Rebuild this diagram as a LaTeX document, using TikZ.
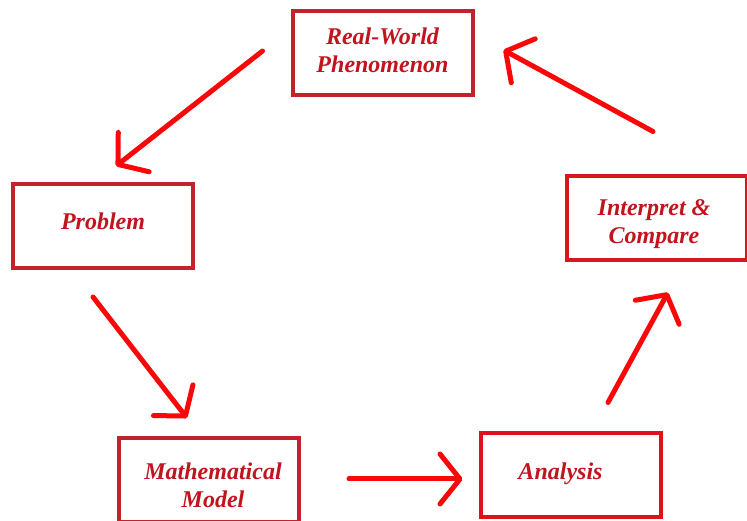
\documentclass[tikz,border=0pt]{standalone}
\usepackage{fontspec}
\setmainfont{Liberation Serif}
\usetikzlibrary{arrows.meta}
\definecolor{boxred}{HTML}{C0232B}
\definecolor{boxbright}{HTML}{DE121A}
\definecolor{txtred}{HTML}{C2141F}
\definecolor{arrred}{HTML}{F80808}
\tikzset{
  stagebox/.style={draw=boxred, line width=4pt, fill=white, minimum width=180pt,
    minimum height=84pt, inner sep=0pt},
  stagetext/.style={text=txtred, align=center, inner sep=0pt,
    font=\fontsize{24}{28}\selectfont\bfseries\itshape},
  flow/.style={draw=arrred, line width=5pt, line cap=round,
    -{Straight Barb[length=20pt,width=50pt,round]}}
}
\begin{document}
\begin{tikzpicture}[x=1pt,y=1pt]
\useasboundingbox[fill=white] (0,0) rectangle (747,521);
\node[stagebox, label={[stagetext, yshift=3pt]center:{Real-World\\Phenomenon}}] (rw) at (382.5,468) {};
\node[stagebox, label={[stagetext, yshift=5pt]center:{Problem}}] (prob) at (103,295) {};
\node[stagebox, draw=boxbright!70!boxred, label={[stagetext, xshift=-3pt, yshift=-6pt]center:{Interpret \&\\Compare}}] (interp) at (657,302.5) {};
\node[stagebox, label={[stagetext, xshift=4pt, yshift=-5pt]center:{Mathematical\\Model}}] (mm) at (209,41) {};
\node[stagebox, draw=boxbright, label={[stagetext, xshift=-10pt, yshift=2pt]center:{Analysis}}] (an) at (570.5,45.5) {};
\draw[flow] ([shift={(-28,2)}]rw.west) -- ([shift={(13,16)}]prob.north);
\draw[flow] ([shift={(-10,-27)}]prob.south) -- ([shift={(-22,18)}]mm.north);
\draw[flow] ([shift={(48,1)}]mm.east) -- ([shift={(-16,-3.5)}]an.west);
\draw[flow] ([shift={(37.5,29)}]an.north) -- ([shift={(11,-30)}]interp.south);
\draw[flow] ([shift={(-4,43)}]interp.north) -- ([shift={(29,3)}]rw.east);
\end{tikzpicture}
\end{document}
